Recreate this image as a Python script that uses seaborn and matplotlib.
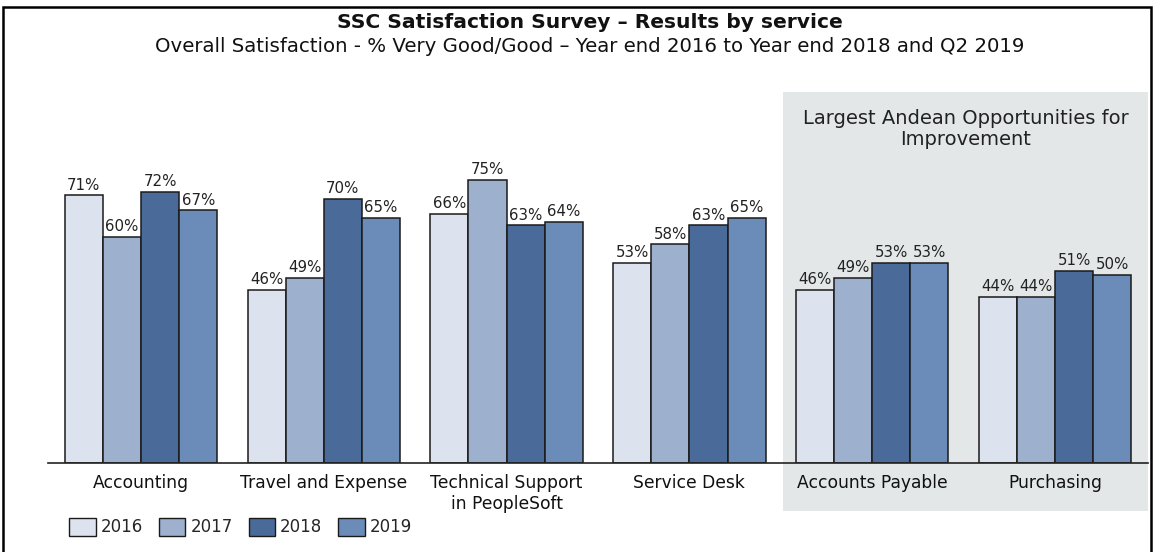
import matplotlib
matplotlib.use("Agg")
import matplotlib.pyplot as plt
import seaborn as sns
import pandas as pd
from matplotlib.patches import Rectangle, Patch

services = ["Accounting", "Travel and Expense", "Technical Support\nin PeopleSoft",
            "Service Desk", "Accounts Payable", "Purchasing"]
years = ["2016", "2017", "2018", "2019"]
v2016 = [71, 46, 66, 53, 46, 44]
v2017 = [60, 49, 75, 58, 49, 44]
v2018 = [72, 70, 63, 63, 53, 51]
v2019 = [67, 65, 64, 65, 53, 50]
colors = ["#DCE3EE", "#9DB0CE", "#4A6A9A", "#6B8CB8"]

title = "SSC Satisfaction Survey \u2013 Results by service"
subtitle = "Overall Satisfaction - % Very Good/Good \u2013 Year end 2016 to Year end 2018 and Q2 2019"
box_title = "Largest Andean Opportunities for\nImprovement"

rows = []
for yr, vals in zip(years, [v2016, v2017, v2018, v2019]):
    for s, v in zip(services, vals):
        rows.append({"service": s, "year": yr, "value": v})
df = pd.DataFrame(rows)

sns.set_theme(style="white")
plt.rcParams["font.family"] = ["DejaVu Sans"]

W, H = 1155, 552
fig = plt.figure(figsize=(W / 100, H / 100), dpi=100)
fig.patch.set_facecolor("white")

def fx(px):
    return px / W

def fy(py):
    return 1 - py / H

# shaded region (behind the axes)
shade = Rectangle((fx(783), fy(511)), fx(1148) - fx(783), fy(92) - fy(511),
                  transform=fig.transFigure, facecolor="#E4E7E8",
                  edgecolor="none", zorder=-5)
fig.patches.append(shade)
# outer border
border = Rectangle((fx(3), fy(560)), fx(1151) - fx(3), fy(7) - fy(560),
                   transform=fig.transFigure, facecolor="none",
                   edgecolor="black", linewidth=1.8, zorder=-4)
fig.patches.append(border)

ax = fig.add_axes([fx(48), fy(463), fx(1148) - fx(48), fy(86) - fy(463)])
ax.set_facecolor("none")
ax.set_zorder(1)

sns.barplot(data=df, x="service", y="value", hue="year", palette=colors,
            edgecolor="#1a1a1a", linewidth=1.1, width=0.835, ax=ax,
            legend=False, saturation=1, errorbar=None)

for cont, vals in zip(ax.containers, [v2016, v2017, v2018, v2019]):
    ax.bar_label(cont, labels=[f"{v}%" for v in vals], padding=2,
                 fontsize=10.8, color="#222222")

ax.set_xlim(-0.509, 5.509)
ax.set_ylim(0, 100)
ax.set_xlabel("")
ax.set_ylabel("")
ax.set_yticks([])
ax.tick_params(axis="x", length=0, pad=8, labelsize=12.3, colors="#111111")
for lbl in ax.get_xticklabels():
    lbl.set_linespacing(1.2)
for sp in ["top", "right", "left"]:
    ax.spines[sp].set_visible(False)
ax.spines["bottom"].set_color("#222222")
ax.spines["bottom"].set_linewidth(1.2)

fig.text(fx(590), fy(23), title, ha="center", va="center", fontsize=14.6,
         fontweight="bold", color="#111111")
fig.text(fx(590), fy(46), subtitle, ha="center", va="center", fontsize=14.2,
         color="#111111")
fig.text(fx(966), fy(129), box_title, ha="center", va="center", fontsize=14,
         color="#222222", linespacing=1.15)

handles = [Patch(facecolor=c, edgecolor="#1a1a1a", linewidth=1.0) for c in colors]
fig.legend(handles, years, loc="center left", bbox_to_anchor=(fx(69), fy(527)),
           ncol=4, frameon=False, fontsize=12, handlelength=1.6,
           handleheight=1.3, handletextpad=0.3, columnspacing=0.95,
           borderaxespad=0, borderpad=0)

fig.savefig("out.png", dpi=100)
